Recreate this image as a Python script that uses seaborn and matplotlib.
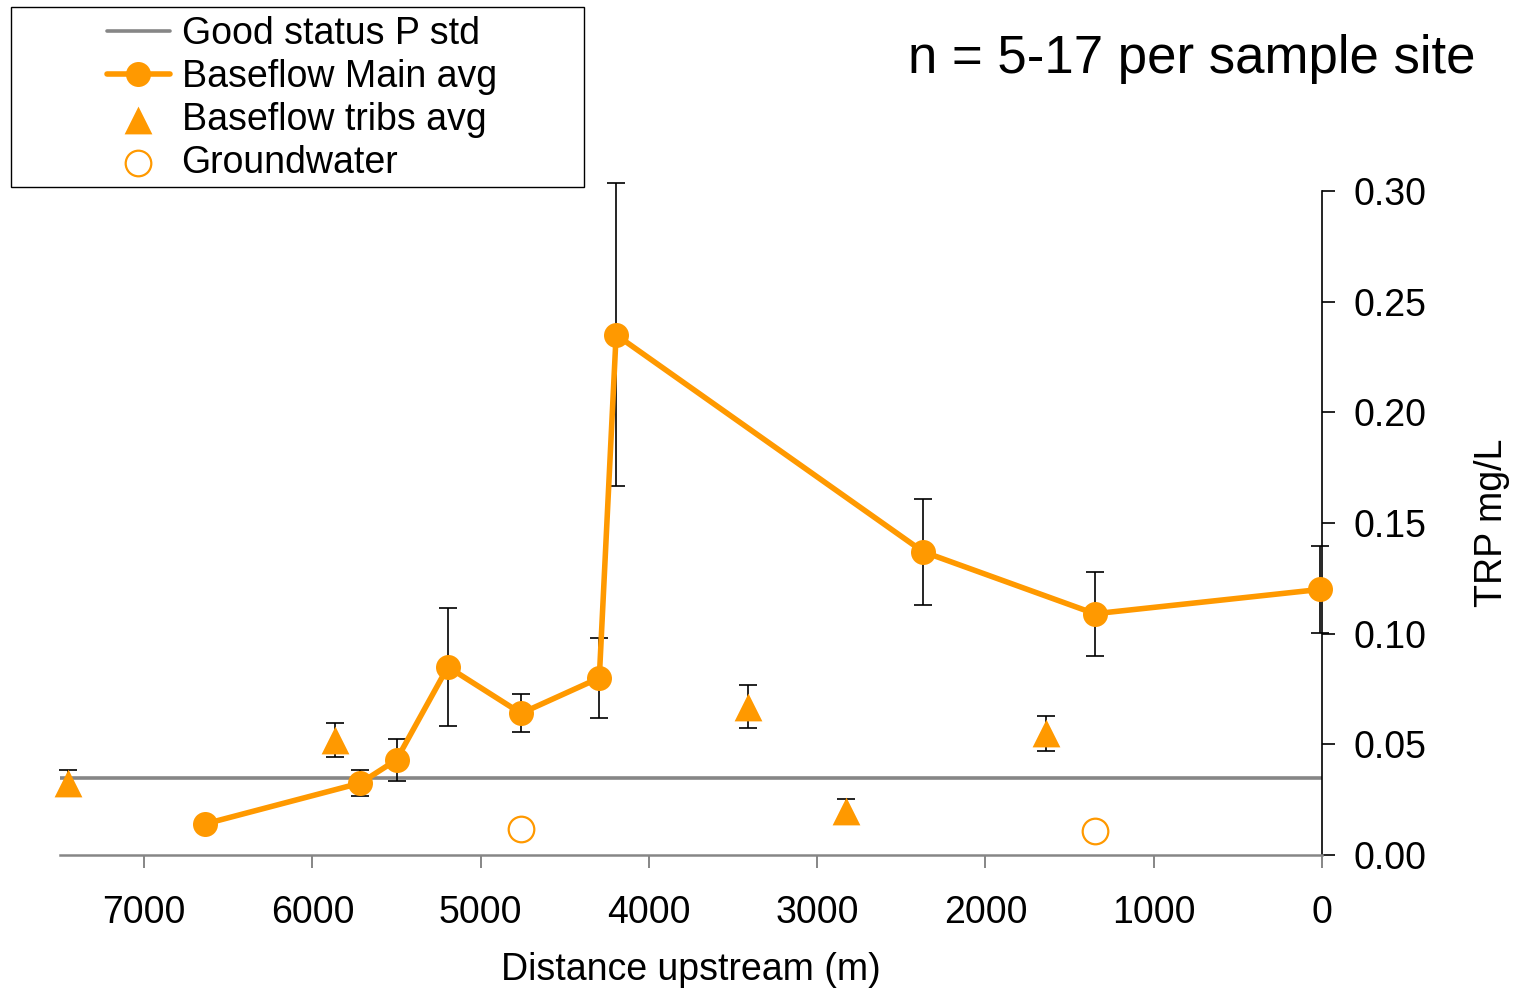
import numpy as np
import pandas as pd
import matplotlib
matplotlib.use("Agg")
import matplotlib.pyplot as plt
from matplotlib.patches import Rectangle
import seaborn as sns

# ---- data ----
main_dist = [6640, 5715, 5500, 5195, 4760, 4295, 4195, 2370, 1350, 10]
main_trp = [0.014, 0.0325, 0.043, 0.085, 0.064, 0.080, 0.235, 0.137, 0.109, 0.120]
main_err = [0.0, 0.006, 0.0095, 0.0265, 0.0086, 0.018, 0.0685, 0.024, 0.019, 0.0195]

tribs_dist = [7450, 5865, 3410, 2830, 1640]
tribs_trp = [0.0325, 0.052, 0.067, 0.020, 0.055]
tribs_err = [0.006, 0.0075, 0.0097, 0.0053, 0.008]

gw_dist = [4760, 1350]
gw_trp = [0.0117, 0.011]

good_status = 0.035

main_df = pd.DataFrame({"dist": main_dist, "trp": main_trp, "err": main_err})
tribs_df = pd.DataFrame({"dist": tribs_dist, "trp": tribs_trp, "err": tribs_err})
gw_df = pd.DataFrame({"dist": gw_dist, "trp": gw_trp})

orange = "#FF9900"
grey = "#868686"

sns.set_style("white")
plt.rcParams["font.family"] = ["Liberation Sans", "DejaVu Sans"]
plt.rcParams["text.color"] = "black"
plt.rcParams["axes.labelcolor"] = "black"

fig = plt.figure(figsize=(15.17, 9.89), dpi=100)
ax = fig.add_axes([60 / 1517, 1 - 855 / 989, (1322 - 60) / 1517, (855 - 191) / 989])

ax.axhline(good_status, color=grey, lw=2.6, zorder=1, label="Good status P std")

# error bars under the markers
ax.errorbar(main_df["dist"], main_df["trp"], yerr=main_df["err"], fmt="none",
            ecolor="black", elinewidth=1.2, capsize=6.5, capthick=1.2,
            zorder=2, clip_on=False)
ax.errorbar(tribs_df["dist"], tribs_df["trp"], yerr=tribs_df["err"], fmt="none",
            ecolor="black", elinewidth=1.2, capsize=6.5, capthick=1.2,
            zorder=2, clip_on=False)

sns.lineplot(data=main_df, x="dist", y="trp", ax=ax, color=orange, lw=4,
             marker="o", markersize=18, markeredgewidth=0, sort=False,
             label="Baseflow Main avg", zorder=3, clip_on=False)
sns.scatterplot(data=tribs_df, x="dist", y="trp", ax=ax, color=orange,
                marker="^", s=400, linewidth=0, label="Baseflow tribs avg",
                zorder=4, clip_on=False)
sns.scatterplot(data=gw_df, x="dist", y="trp", ax=ax, facecolor="white",
                edgecolor=orange, marker="o", s=340, linewidth=1.6,
                label="Groundwater", zorder=4)

ax.set_xlim(7500, 0)
ax.set_ylim(0, 0.30)
ax.set_xticks(np.arange(0, 7001, 1000))
ax.set_yticks(np.arange(0, 0.301, 0.05))
ax.yaxis.set_major_formatter(matplotlib.ticker.FormatStrFormatter("%.2f"))

for side in ["top", "left"]:
    ax.spines[side].set_visible(False)
ax.spines["bottom"].set_color(grey)
ax.spines["bottom"].set_linewidth(1.8)
ax.spines["right"].set_color("black")
ax.spines["right"].set_linewidth(1.2)
ax.yaxis.tick_right()
ax.yaxis.set_label_position("right")
ax.tick_params(axis="x", direction="out", length=9, width=1.4, color=grey,
               labelcolor="black", labelsize=27, pad=20, bottom=True)
ax.tick_params(axis="y", direction="out", length=9, width=1.2, color="black",
               labelcolor="black", labelsize=27, pad=14, right=True, left=False)

ax.set_xlabel("Distance upstream (m)", fontsize=27, labelpad=15)
ax.set_ylabel("TRP mg/L", fontsize=27, labelpad=34)

handles, labels = ax.get_legend_handles_labels()
ax.get_legend().remove()
order = ["Good status P std", "Baseflow Main avg", "Baseflow tribs avg", "Groundwater"]
hmap = dict(zip(labels, handles))
leg = fig.legend([hmap[k] for k in order], order, loc="upper left",
                 bbox_to_anchor=(84 / 1517, 1 + 6 / 989), frameon=False,
                 fontsize=27, handlelength=1.7, handletextpad=0.3,
                 labelspacing=0.18, borderpad=0.1)
fig.add_artist(Rectangle((11 / 1517, 1 - 187 / 989), (584 - 11) / 1517,
                         (187 - 7) / 989, transform=fig.transFigure,
                         fill=False, edgecolor="black", lw=1.0))

fig.text(1475 / 1517, 1 - 59 / 989, "n = 5-17 per sample site", fontsize=38,
         ha="right", va="center")

fig.savefig("out.png", dpi=100)
